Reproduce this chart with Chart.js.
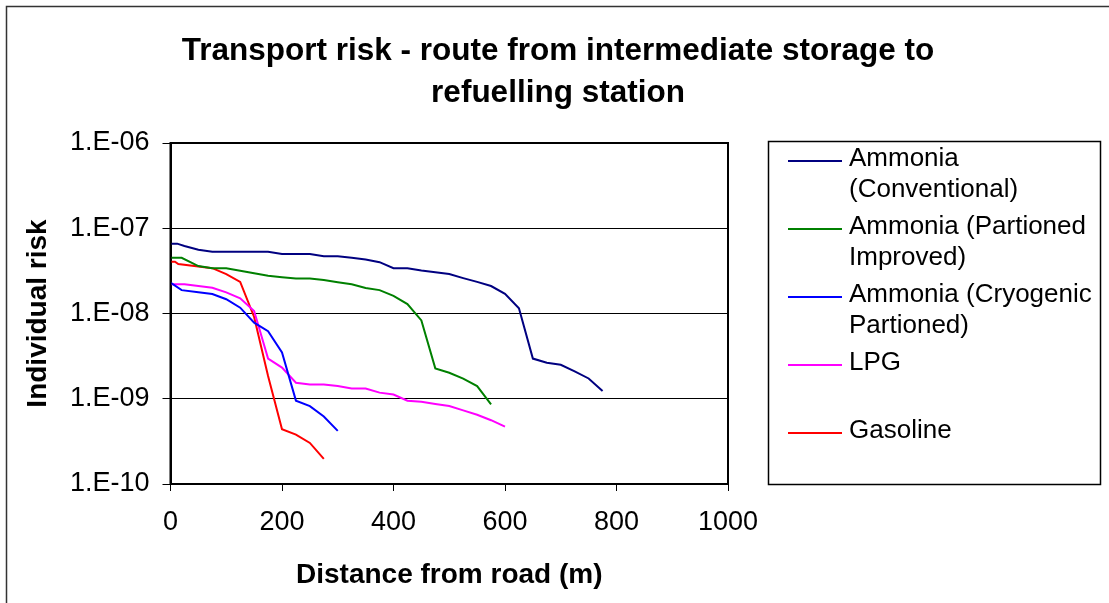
<!DOCTYPE html>
<html>
<head>
<meta charset="utf-8">
<script src="https://cdn.jsdelivr.net/npm/chart.js@4.4.1/dist/chart.umd.min.js"></script>
<style>
  html, body { margin: 0; padding: 0; background: #fff; }
  canvas { display: block; }
</style>
</head>
<body>
<canvas id="riskChart" width="1109" height="603"></canvas>
<script>
// Distances (m) and individual risk
const conventionalDist = [0, 12, 25, 50, 75, 100, 125, 150, 175, 200, 225, 250, 275, 300, 325, 350, 375, 400, 425, 450, 475, 500, 525, 550, 575, 600, 625, 650, 675, 700, 725, 750, 775];
const conventionalRisk = [6.6e-8, 6.6e-8, 6.2e-8, 5.6e-8, 5.3e-8, 5.3e-8, 5.3e-8, 5.3e-8, 5.3e-8, 5.0e-8, 5.0e-8, 5.0e-8, 4.7e-8, 4.7e-8, 4.5e-8, 4.3e-8, 4.0e-8, 3.4e-8, 3.4e-8, 3.2e-8, 3.05e-8, 2.9e-8, 2.6e-8, 2.35e-8, 2.1e-8, 1.7e-8, 1.15e-8, 2.96e-9, 2.65e-9, 2.5e-9, 2.1e-9, 1.73e-9, 1.23e-9];

const improvedDist = [0, 20, 50, 75, 100, 125, 150, 175, 200, 225, 250, 275, 300, 325, 350, 375, 400, 425, 450, 475, 500, 525, 550, 575];
const improvedRisk = [4.5e-8, 4.5e-8, 3.6e-8, 3.4e-8, 3.4e-8, 3.18e-8, 2.97e-8, 2.77e-8, 2.67e-8, 2.58e-8, 2.58e-8, 2.47e-8, 2.33e-8, 2.2e-8, 1.99e-8, 1.88e-8, 1.61e-8, 1.29e-8, 8.3e-9, 2.27e-9, 2.02e-9, 1.72e-9, 1.41e-9, 8.6e-10];

const cryogenicDist = [0, 20, 50, 75, 100, 125, 150, 175, 200, 225, 250, 275, 300];
const cryogenicRisk = [2.3e-8, 1.88e-8, 1.78e-8, 1.69e-8, 1.47e-8, 1.17e-8, 7.8e-9, 6.2e-9, 3.5e-9, 9.5e-10, 8.2e-10, 6.2e-10, 4.2e-10];

const lpgDist = [0, 25, 75, 100, 125, 150, 175, 200, 225, 250, 275, 300, 325, 350, 375, 400, 425, 450, 475, 500, 525, 550, 575, 600];
const lpgRisk = [2.2e-8, 2.2e-8, 2.0e-8, 1.77e-8, 1.51e-8, 1.07e-8, 2.96e-9, 2.32e-9, 1.54e-9, 1.47e-9, 1.47e-9, 1.41e-9, 1.32e-9, 1.32e-9, 1.18e-9, 1.12e-9, 9.5e-10, 9.2e-10, 8.7e-10, 8.2e-10, 7.3e-10, 6.5e-10, 5.6e-10, 4.7e-10];

const gasolineDist = [0, 8, 14, 75, 100, 125, 150, 175, 200, 225, 250, 275];
const gasolineRisk = [4.05e-8, 4.05e-8, 3.8e-8, 3.4e-8, 2.9e-8, 2.35e-8, 9.1e-9, 1.85e-9, 4.4e-10, 3.8e-10, 3.03e-10, 1.97e-10];

const yTicks = [1e-10, 1e-9, 1e-8, 1e-7, 1e-6];
const xTicks = [0, 200, 400, 600, 800, 1000];

const titleLines = ["Transport risk - route from intermediate storage to", "refuelling station"];
const legendLines = [
    ["Ammonia", "(Conventional)"],
    ["Ammonia (Partioned", "Improved)"],
    ["Ammonia (Cryogenic", "Partioned)"],
    ["LPG"],
    ["Gasoline"]
];

const FONT = '"Liberation Sans", Arial, sans-serif';

function toPoints(xs, ys) {
    return xs.map((x, i) => ({ x: x, y: ys[i] }));
}

function sciLabel(v) {
    const e = Math.round(Math.log10(v));
    return "1.E" + (e < 0 ? "-" : "+") + String(Math.abs(e)).padStart(2, "0");
}

// white background, outer frame, chart title
const frame = {
    id: 'frame',
    beforeDraw(chart) {
        const ctx = chart.ctx;
        ctx.save();
        ctx.fillStyle = '#fff';
        ctx.fillRect(0, 0, chart.width, chart.height);
        ctx.strokeStyle = '#333';
        ctx.lineWidth = 1.5;
        ctx.beginPath();
        ctx.moveTo(6.5, chart.height);
        ctx.lineTo(6.5, 6.5);
        ctx.lineTo(chart.width, 6.5);
        ctx.stroke();
        ctx.restore();
    },
    afterDraw(chart) {
        const { ctx, chartArea } = chart;
        ctx.save();
        ctx.strokeStyle = '#000';
        ctx.lineWidth = 2;
        ctx.strokeRect(chartArea.left, chartArea.top, chartArea.right - chartArea.left, chartArea.bottom - chartArea.top);
        ctx.fillStyle = '#000';
        ctx.font = 'bold 31.5px ' + FONT;
        ctx.textAlign = 'center';
        ctx.textBaseline = 'middle';
        titleLines.forEach((t, i) => ctx.fillText(t, 558, 51 + i * 42));
        ctx.restore();
    }
};

// Excel-style boxed legend with wrapped labels
const legendBox = {
    id: 'legendBox',
    afterDraw(chart) {
        const { ctx, chartArea } = chart;
        const left = chartArea.right + 40;
        const top = chartArea.top - 2;
        ctx.save();
        ctx.strokeStyle = '#000';
        ctx.lineWidth = 1.5;
        ctx.strokeRect(left + 0.5, top + 0.5, 332, 343);
        ctx.font = '26px ' + FONT;
        ctx.textBaseline = 'middle';
        ctx.textAlign = 'left';
        chart.data.datasets.forEach((ds, i) => {
            const y = top + 18 + i * 68;
            ctx.strokeStyle = ds.borderColor;
            ctx.lineWidth = 2;
            ctx.beginPath();
            ctx.moveTo(left + 20, y + 2);
            ctx.lineTo(left + 74, y + 2);
            ctx.stroke();
            ctx.fillStyle = '#000';
            legendLines[i].forEach((t, j) => ctx.fillText(t, left + 81, y + j * 31));
        });
        ctx.restore();
    }
};

const riskChart = new Chart(document.getElementById("riskChart"), {
    type: 'line',
    data: {
        datasets: [
            { label: "Ammonia (Conventional)", data: toPoints(conventionalDist, conventionalRisk), borderColor: "#000080" },
            { label: "Ammonia (Partioned Improved)", data: toPoints(improvedDist, improvedRisk), borderColor: "#008000" },
            { label: "Ammonia (Cryogenic Partioned)", data: toPoints(cryogenicDist, cryogenicRisk), borderColor: "#0000ff" },
            { label: "LPG", data: toPoints(lpgDist, lpgRisk), borderColor: "#ff00ff" },
            { label: "Gasoline", data: toPoints(gasolineDist, gasolineRisk), borderColor: "#ff0000" }
        ]
    },
    options: {
        responsive: false,
        animation: false,
        devicePixelRatio: 1,
        layout: { padding: { left: 0, top: 143, right: 381, bottom: 0 } },
        elements: {
            line: { borderWidth: 2, tension: 0, fill: false },
            point: { radius: 0, hoverRadius: 0 }
        },
        plugins: {
            legend: { display: false },
            title: { display: false },
            tooltip: { enabled: false }
        },
        scales: {
            x: {
                type: 'linear',
                min: 0,
                max: 1000,
                afterBuildTicks: (axis) => { axis.ticks = xTicks.map(v => ({ value: v })); },
                afterFit: (axis) => { axis.height = 119; },
                grid: { drawOnChartArea: false, color: '#000', tickLength: 7 },
                border: { color: '#000', width: 2 },
                ticks: {
                    color: '#000',
                    padding: 15,
                    font: { family: FONT, size: 27 },
                    callback: (v) => String(v)
                },
                title: {
                    display: true,
                    text: "Distance from road (m)",
                    color: '#000',
                    font: { family: FONT, size: 28, weight: 'bold' },
                    padding: { top: 0, bottom: 11 }
                }
            },
            y: {
                type: 'logarithmic',
                min: 1e-10,
                max: 1e-6,
                afterBuildTicks: (axis) => { axis.ticks = yTicks.map(v => ({ value: v })); },
                afterFit: (axis) => { axis.width = 170.5; },
                grid: { color: '#000', lineWidth: 1, tickLength: 8 },
                border: { color: '#000', width: 2 },
                ticks: {
                    color: '#000',
                    padding: 13,
                    font: { family: FONT, size: 27 },
                    callback: (v) => sciLabel(v)
                },
                title: {
                    display: true,
                    text: "Individual risk",
                    color: '#000',
                    font: { family: FONT, size: 28, weight: 'bold' },
                    padding: { top: 21, bottom: 0 }
                }
            }
        }
    },
    plugins: [frame, legendBox]
});
</script>
</body>
</html>
